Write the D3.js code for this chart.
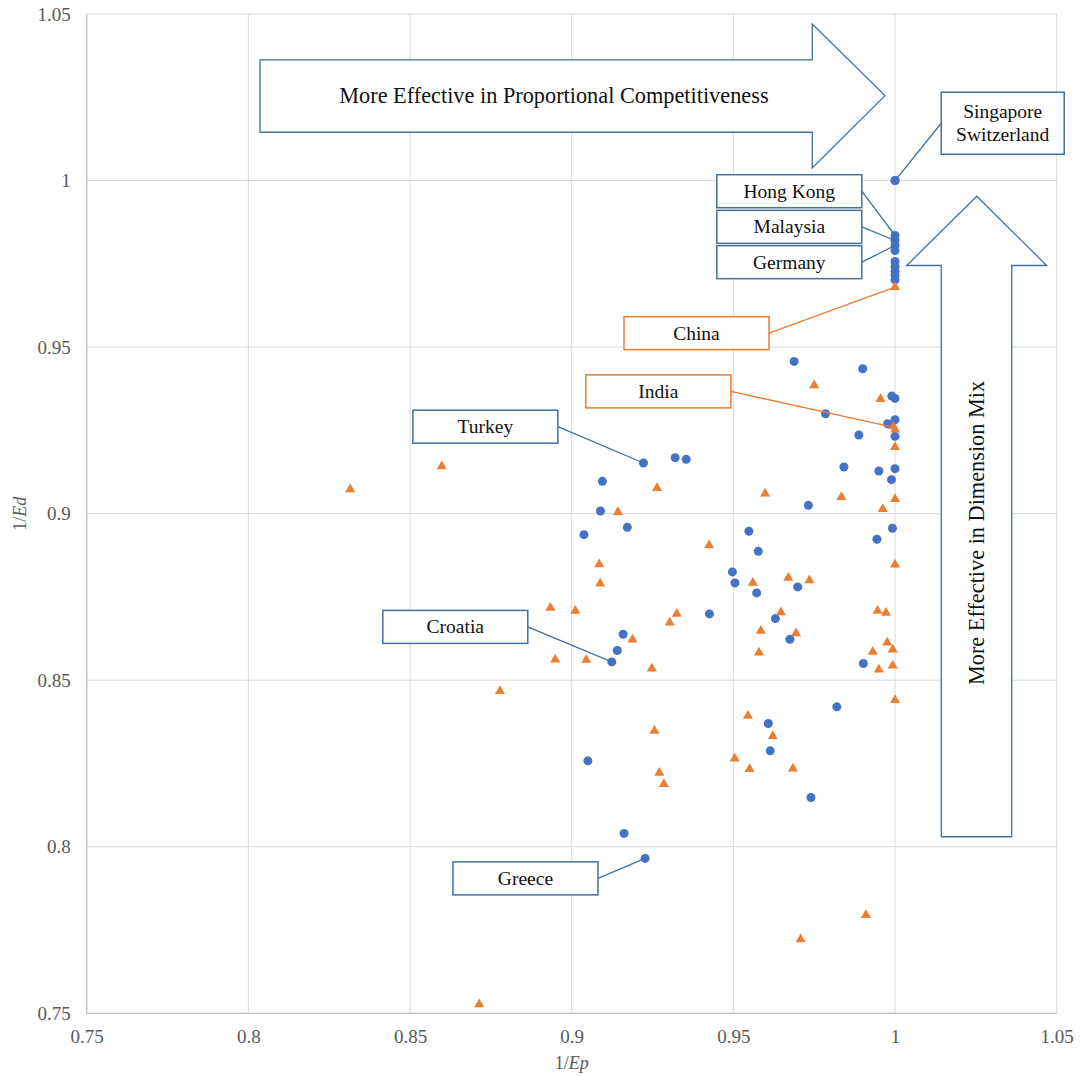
<!DOCTYPE html>
<html>
<head>
<meta charset="utf-8">
<script src="https://cdn.jsdelivr.net/npm/d3@7"></script>
<style>
  html, body { margin: 0; padding: 0; background: #fff; }
  svg { display: block; font-family: "Liberation Serif", "Times New Roman", serif; }
</style>
</head>
<body>
<svg id="chart" width="1080" height="1076"></svg>
<script>
// ---- data ----
const xTicks = [0.75, 0.8, 0.85, 0.9, 0.95, 1, 1.05];
const yTicks = [0.75, 0.8, 0.85, 0.9, 0.95, 1, 1.05];

const blueX = [1.0, 1.0, 1.0, 1.0, 1.0, 1.0, 1.0, 1.0, 1.0, 1.0, 1.0,
  0.9688, 0.990, 0.999, 1.0, 0.9785, 1.0, 0.9977, 1.0, 0.9888, 0.9842,
  0.995, 1.0, 0.9989, 0.9732, 0.9992, 0.9944, 0.9699, 0.9902, 0.982,
  0.9222, 0.932, 0.9354, 0.9095, 0.9089, 0.9172, 0.9038, 0.9548, 0.9577,
  0.9497, 0.9505, 0.9572, 0.9426, 0.963, 0.9159, 0.9675, 0.9141, 0.9124,
  0.9608, 0.9614, 0.974, 0.905, 0.9162, 0.9227];
const blueY = [1.0, 1.0, 0.9835, 0.982, 0.9805, 0.979, 0.9757, 0.9742, 0.9728, 0.9715, 0.9702,
  0.9457, 0.9435, 0.9353, 0.9346, 0.930, 0.9282, 0.927, 0.9232, 0.9236, 0.914,
  0.9128, 0.9135, 0.9102, 0.9025, 0.8956, 0.8923, 0.878, 0.855, 0.842,
  0.9152, 0.9168, 0.9163, 0.9097, 0.9008, 0.8959, 0.8937, 0.8947, 0.8887,
  0.8825, 0.8792, 0.8762, 0.8699, 0.8685, 0.8638, 0.8623, 0.8589, 0.8555,
  0.837, 0.8288, 0.8148, 0.8258, 0.804, 0.7965];

const orangeX = [1.0, 0.9995, 1.0, 0.975, 0.9955, 1.0, 0.9834, 1.0, 0.9962, 1.0,
  0.9735, 0.9946, 0.9972, 0.9976, 0.9931, 0.9993, 0.995, 0.9993, 1.0,
  0.9264, 0.9598, 0.9143, 0.9425, 0.9085, 0.9088, 0.956, 0.967, 0.8934,
  0.9011, 0.9325, 0.9303, 0.9647, 0.9585, 0.9188, 0.9694, 0.9579, 0.8949,
  0.9045, 0.9248, 0.9545, 0.8598, 0.8315, 0.8778, 0.9256, 0.9271, 0.9285,
  0.8714, 0.9622, 0.9504, 0.955, 0.9684, 0.991, 0.9708];
const orangeY = [0.968, 0.9262, 0.9252, 0.9385, 0.9344, 0.920, 0.905, 0.9044, 0.9014, 0.8847,
  0.880, 0.8708, 0.8702, 0.8613, 0.8585, 0.8592, 0.8532, 0.8544, 0.844,
  0.9077, 0.906, 0.9005, 0.8905, 0.8848, 0.879, 0.8792, 0.8807, 0.8717,
  0.8708, 0.8699, 0.8673, 0.8704, 0.8648, 0.8622, 0.8641, 0.8583, 0.8562,
  0.8561, 0.8535, 0.8393, 0.9142, 0.9073, 0.8467, 0.8348, 0.8222, 0.8188,
  0.7527, 0.8332, 0.8265, 0.8233, 0.8235, 0.7795, 0.7722];

// annotation labels: text lines, series, anchor point (data), box centre (data)
const labelNames   = [["Singapore", "Switzerland"], ["Hong Kong"], ["Malaysia"], ["Germany"], ["China"], ["India"], ["Turkey"], ["Croatia"], ["Greece"]];
const labelSeries  = ["blue", "blue", "blue", "blue", "orange", "orange", "blue", "blue", "blue"];
const labelAnchorX = [1.0, 1.0, 1.0, 1.0, 1.0, 1.0, 0.9222, 0.9124, 0.9227];
const labelAnchorY = [1.0, 0.9835, 0.982, 0.9805, 0.968, 0.9258, 0.9152, 0.8555, 0.7965];
const labelBoxX    = [1.0333, 0.9673, 0.9673, 0.9673, 0.9386, 0.9268, 0.8733, 0.864, 0.8857];
const labelBoxY    = [1.0172, 0.9968, 0.9861, 0.9755, 0.9542, 0.9367, 0.9261, 0.866, 0.7905];

const arrowTextH = "More Effective in Proportional Competitiveness";
const arrowTextV = "More Effective in Dimension Mix";

// ---- layout ----
const W = 1080, H = 1076;
const margin = { left: 86.7, top: 14, right: W - 1056.7, bottom: H - 1013.3 };
const iw = W - margin.left - margin.right;
const ih = H - margin.top - margin.bottom;

const svg = d3.select("#chart");
const g = svg.append("g").attr("transform", `translate(${margin.left},${margin.top})`);

const x = d3.scaleLinear().domain([0.75, 1.05]).range([0, iw]);
const y = d3.scaleLinear().domain([0.75, 1.05]).range([ih, 0]);

const gridColor = "#d9d9d9";
const tickColor = "#595959";
const blue = "#4472C4", orange = "#ED7D31", boxBlue = "#41719C";

// gridlines
g.append("g").selectAll("line").data(xTicks).join("line")
  .attr("x1", d => x(d)).attr("x2", d => x(d)).attr("y1", 0).attr("y2", ih)
  .attr("stroke", gridColor).attr("stroke-width", 1);
g.append("g").selectAll("line").data(yTicks).join("line")
  .attr("x1", 0).attr("x2", iw).attr("y1", d => y(d)).attr("y2", d => y(d))
  .attr("stroke", gridColor).attr("stroke-width", 1);
// axis lines
g.append("line").attr("x1", 0).attr("x2", iw).attr("y1", ih).attr("y2", ih).attr("stroke", "#bfbfbf").attr("stroke-width", 1.2);
g.append("line").attr("x1", 0).attr("x2", 0).attr("y1", 0).attr("y2", ih).attr("stroke", "#bfbfbf").attr("stroke-width", 1.2);

// axes (labels only)
const fmt = d => (+d.toFixed(2)).toString();
const xAxis = g.append("g").attr("transform", `translate(0,${ih})`)
  .call(d3.axisBottom(x).tickValues(xTicks).tickFormat(fmt).tickSize(0).tickPadding(16));
const yAxis = g.append("g")
  .call(d3.axisLeft(y).tickValues(yTicks).tickFormat(fmt).tickSize(0).tickPadding(16));
[xAxis, yAxis].forEach(a => {
  a.select(".domain").remove();
  a.selectAll("text").attr("fill", tickColor).style("font-size", "19px")
    .style("font-family", "'Liberation Serif', 'Times New Roman', serif");
});

// axis titles
const xt = g.append("text").attr("x", x(0.9)).attr("y", 1069 - margin.top)
  .attr("text-anchor", "middle").attr("fill", tickColor).style("font-size", "18px");
xt.append("tspan").text("1/");
xt.append("tspan").attr("font-style", "italic").text("Ep");
const yt = svg.append("text").attr("transform", `translate(26,${margin.top + ih * 0.5}) rotate(-90)`)
  .attr("text-anchor", "middle").attr("fill", tickColor).style("font-size", "18px");
yt.append("tspan").text("1/");
yt.append("tspan").attr("font-style", "italic").text("Ed");

// points
const blueData = blueX.map((v, i) => [v, blueY[i]]);
const orangeData = orangeX.map((v, i) => [v, orangeY[i]]);

g.append("g").selectAll("circle").data(blueData).join("circle")
  .attr("cx", d => x(d[0])).attr("cy", d => y(d[1])).attr("r", 4.5)
  .attr("fill", blue);

const tri = d3.symbol().type(d3.symbolTriangle).size(44);
g.append("g").selectAll("path").data(orangeData).join("path")
  .attr("d", tri).attr("transform", d => `translate(${x(d[0])},${y(d[1])})`)
  .attr("fill", orange);

// arrows (data-space geometry)
const hArrow = [[0.8036, 1.0362], [0.9744, 1.0362], [0.9744, 1.047], [0.9969, 1.0255],
  [0.9744, 1.0038], [0.9744, 1.0145], [0.8036, 1.0145]];
const vArrow = [[1.0143, 0.803], [1.0143, 0.9745], [1.0036, 0.9745], [1.0253, 0.9953],
  [1.0469, 0.9745], [1.0361, 0.9745], [1.0361, 0.803]];
const line = d3.line().x(d => x(d[0])).y(d => y(d[1]));
const ann = g.append("g");
ann.append("path").attr("d", line(hArrow) + "Z").attr("fill", "#fff")
  .attr("stroke", boxBlue).attr("stroke-width", 1.3);
ann.append("text").attr("x", x(0.8945)).attr("y", y(1.0255))
  .attr("text-anchor", "middle").attr("dominant-baseline", "central")
  .style("font-size", "22.3px").attr("fill", "#111").text(arrowTextH);
ann.append("path").attr("d", line(vArrow) + "Z").attr("fill", "#fff")
  .attr("stroke", boxBlue).attr("stroke-width", 1.3);
const vcx = (x(1.0143) + x(1.0361)) / 2, vcy = y(0.8942);
ann.append("text").attr("transform", `translate(${vcx},${vcy}) rotate(-90)`)
  .attr("text-anchor", "middle").attr("dominant-baseline", "central")
  .style("font-size", "22.3px").attr("fill", "#111").text(arrowTextV);

// labels with leader lines
labelNames.forEach((lines, i) => {
  const col = labelSeries[i] === "blue" ? boxBlue : orange;
  const bw = lines.length > 1 ? 123 : 145;
  const bh = lines.length > 1 ? 62 : 33;
  const cx = x(labelBoxX[i]), cy = y(labelBoxY[i]);
  const ax = x(labelAnchorX[i]), ay = y(labelAnchorY[i]);
  const sx = ax > cx ? cx + bw / 2 : cx - bw / 2;
  ann.append("line").attr("x1", sx).attr("y1", cy).attr("x2", ax).attr("y2", ay)
    .attr("stroke", col).attr("stroke-width", 1.3);
  ann.append("rect").attr("x", cx - bw / 2).attr("y", cy - bh / 2).attr("width", bw).attr("height", bh)
    .attr("fill", "#fff").attr("stroke", col).attr("stroke-width", 1.5);
  lines.forEach((t, k) => {
    ann.append("text").attr("x", cx).attr("y", cy + (k - (lines.length - 1) / 2) * 23)
      .attr("text-anchor", "middle").attr("dominant-baseline", "central")
      .style("font-size", "19.5px").attr("fill", "#111").text(t);
  });
});
</script>
</body>
</html>
